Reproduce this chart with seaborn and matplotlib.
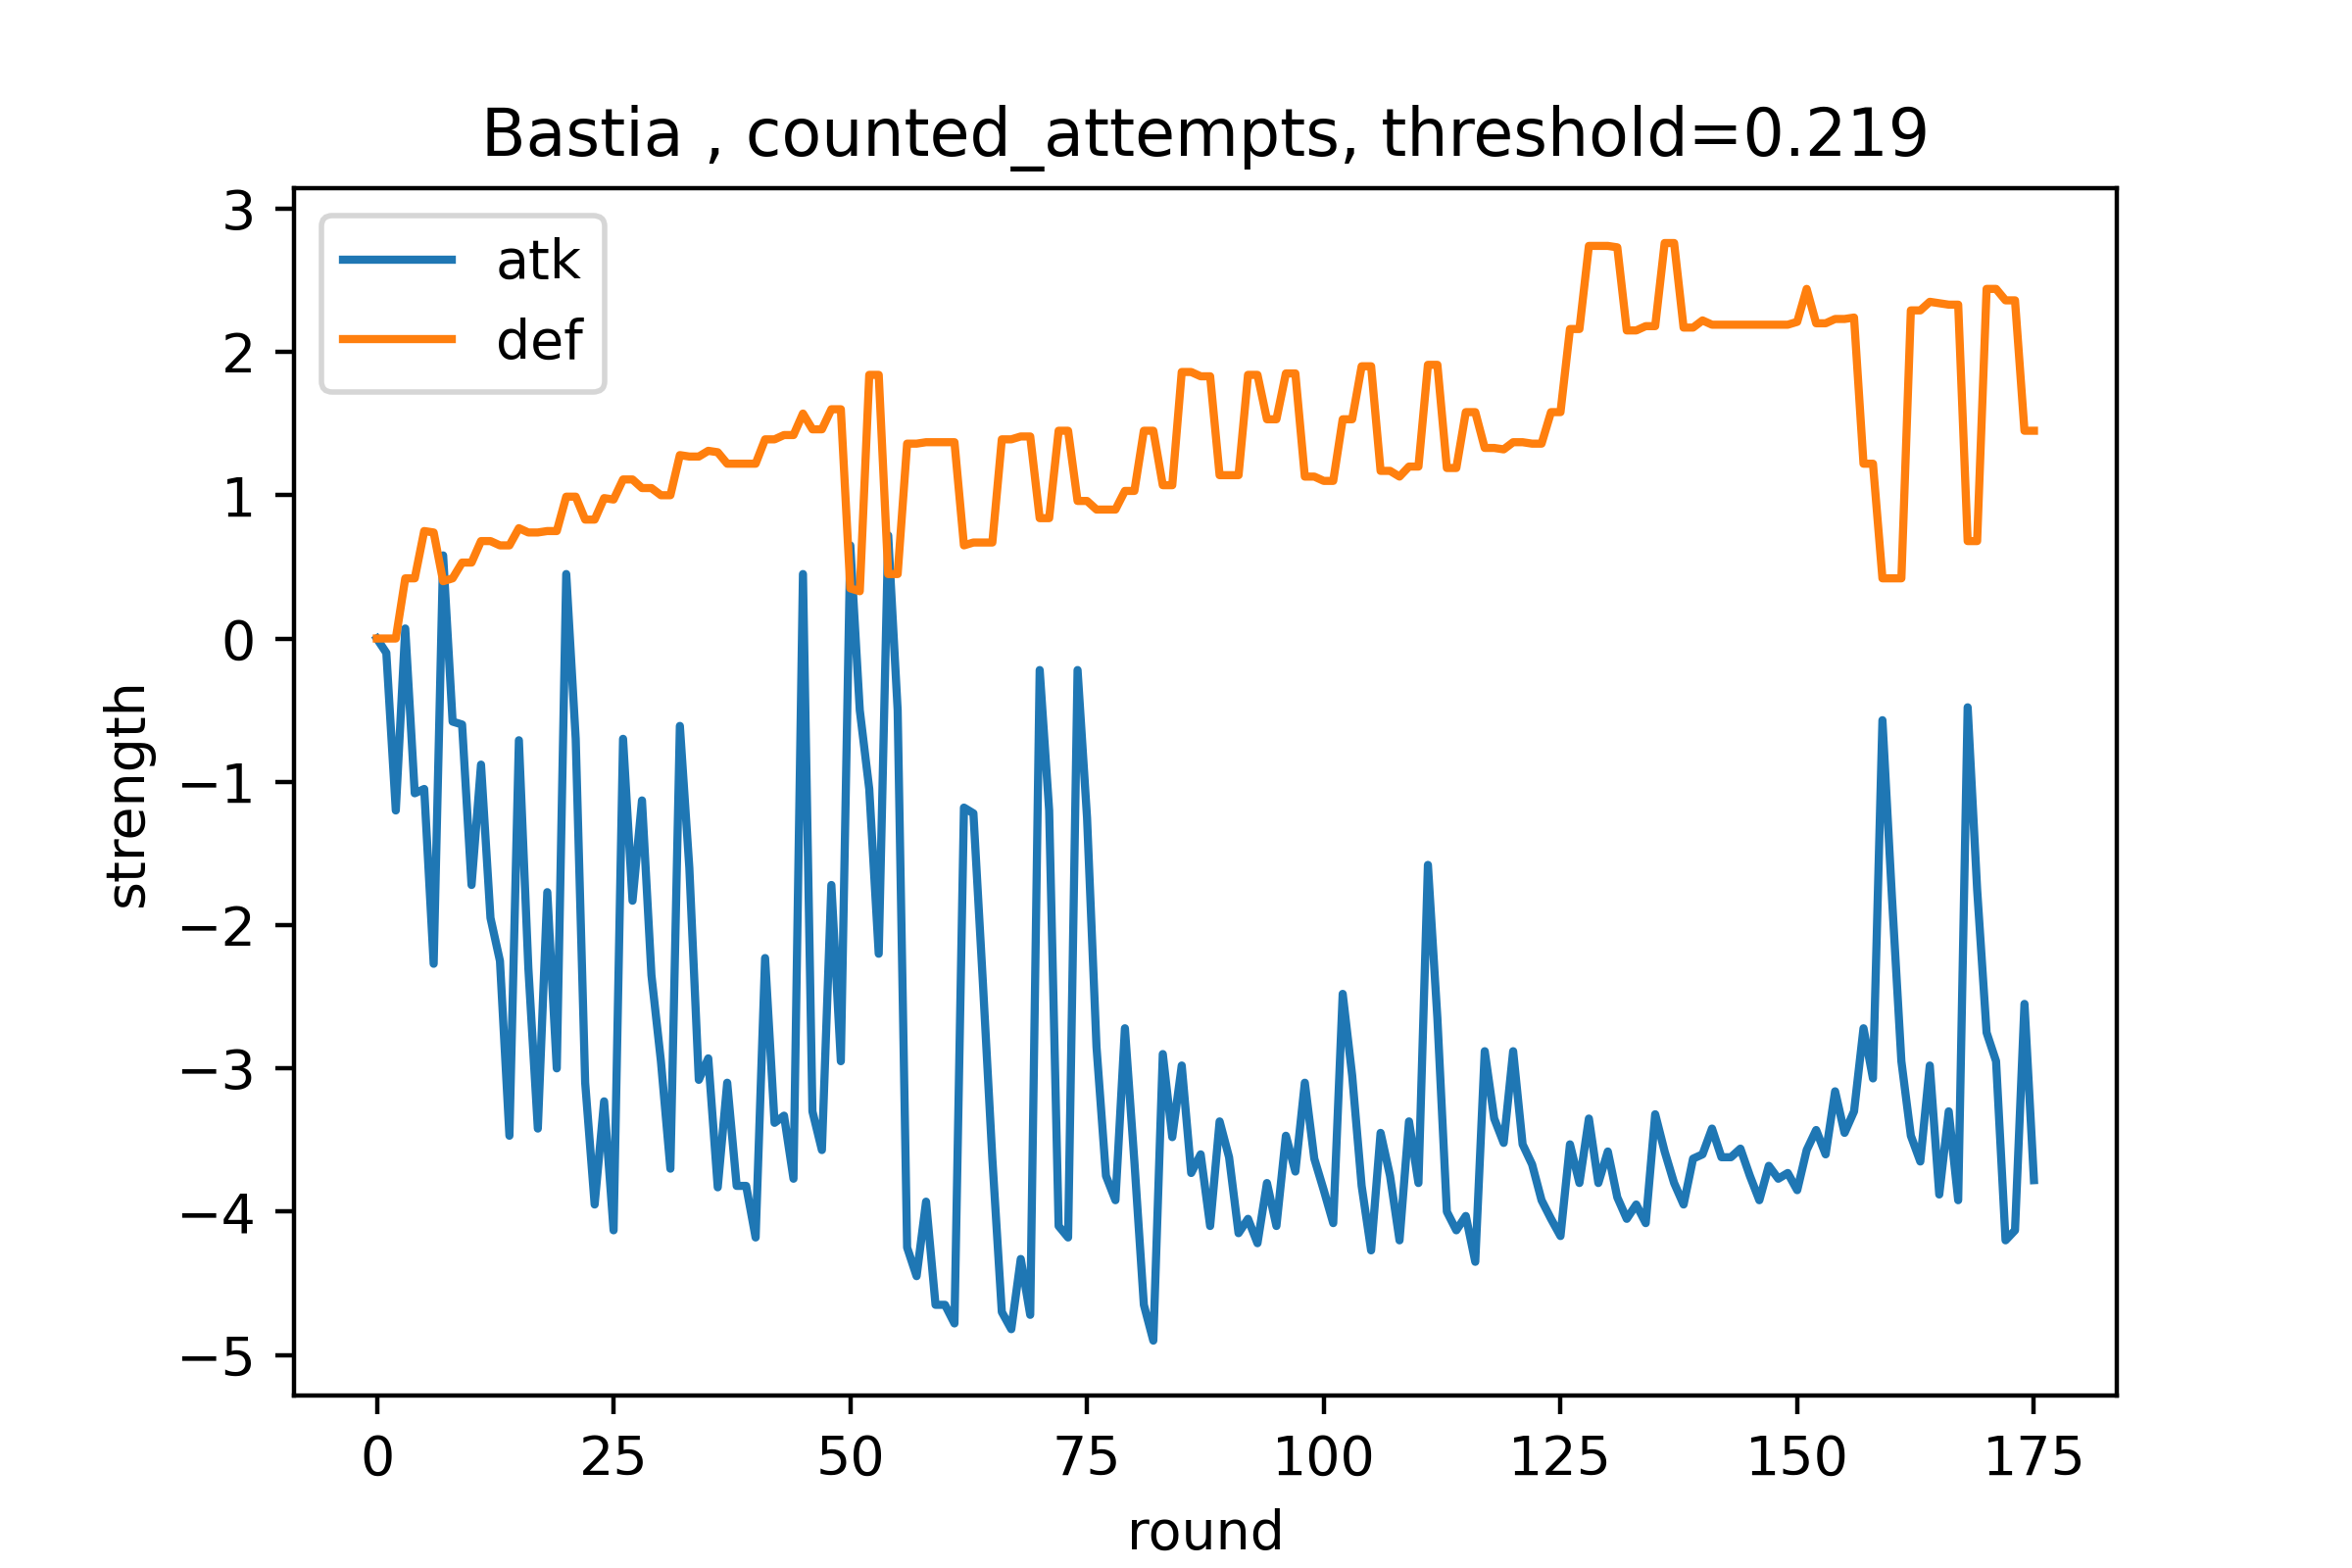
import matplotlib
matplotlib.use("Agg")
import matplotlib.pyplot as plt
import seaborn as sns
import numpy as np
import pandas as pd

atk = [0, -0.1, -1.2, 0.07, -1.08, -1.05, -2.27, 0.58, -0.58, -0.6,
       -1.72, -0.88, -1.95, -2.25, -3.47, -0.71, -2.3, -3.42, -1.77, -3.0,
       0.45, -0.7, -3.1, -3.95, -3.23, -4.13, -0.7, -1.83, -1.13, -2.35,
       -2.95, -3.7, -0.61, -1.6, -3.08, -2.93, -3.83, -3.1, -3.82, -3.82,
       -4.18, -2.23, -3.38, -3.33, -3.77, 0.45, -3.3, -3.57, -1.72, -2.95,
       0.65, -0.5, -1.05, -2.2, 0.72, -0.5, -4.25, -4.45, -3.93, -4.65,
       -4.65, -4.78, -1.18, -1.22, -2.4, -3.63, -4.7, -4.82, -4.33, -4.72,
       -0.22, -1.2, -4.1, -4.18, -0.22, -1.25, -2.85, -3.75, -3.92, -2.72,
       -3.65, -4.65, -4.9, -2.9, -3.48, -2.98, -3.73, -3.6, -4.1, -3.37,
       -3.62, -4.15, -4.05, -4.22, -3.8, -4.1, -3.47, -3.72, -3.1, -3.63,
       -3.85, -4.08, -2.48, -3.05, -3.82, -4.27, -3.45, -3.75, -4.2, -3.37,
       -3.8, -1.58, -2.65, -4.0, -4.13, -4.03, -4.35, -2.88, -3.35, -3.52,
       -2.88, -3.53, -3.67, -3.92, -4.05, -4.17, -3.53, -3.8, -3.35, -3.8,
       -3.58, -3.9, -4.05, -3.95, -4.08, -3.32, -3.58, -3.8, -3.95, -3.63,
       -3.6, -3.42, -3.62, -3.62, -3.56, -3.75, -3.92, -3.68, -3.77, -3.73,
       -3.85, -3.57, -3.43, -3.6, -3.16, -3.45, -3.3, -2.72, -3.07, -0.57,
       -1.8, -2.95, -3.47, -3.65, -2.98, -3.88, -3.3, -3.92, -0.48, -1.75,
       -2.75, -2.95, -4.2, -4.13, -2.55, -3.78]

deff = [0, 0, 0, 0.42, 0.42, 0.75, 0.74, 0.4, 0.42, 0.53,
        0.53, 0.68, 0.68, 0.65, 0.65, 0.77, 0.74, 0.74, 0.75, 0.75,
        0.99, 0.99, 0.83, 0.83, 0.98, 0.97, 1.11, 1.11, 1.05, 1.05,
        1.0, 1.0, 1.28, 1.27, 1.27, 1.31, 1.3, 1.22, 1.22, 1.22,
        1.22, 1.39, 1.39, 1.42, 1.42, 1.57, 1.46, 1.46, 1.6, 1.6,
        0.35, 0.33, 1.84, 1.84, 0.45, 0.45, 1.36, 1.36, 1.37, 1.37,
        1.37, 1.37, 0.65, 0.67, 0.67, 0.67, 1.39, 1.39, 1.41, 1.41,
        0.84, 0.84, 1.45, 1.45, 0.96, 0.96, 0.9, 0.9, 0.9, 1.03,
        1.03, 1.45, 1.45, 1.07, 1.07, 1.86, 1.86, 1.83, 1.83, 1.14,
        1.14, 1.14, 1.84, 1.84, 1.53, 1.53, 1.85, 1.85, 1.13, 1.13,
        1.1, 1.1, 1.53, 1.53, 1.9, 1.9, 1.17, 1.17, 1.13, 1.2,
        1.2, 1.91, 1.91, 1.19, 1.19, 1.58, 1.58, 1.33, 1.33, 1.32,
        1.37, 1.37, 1.36, 1.36, 1.58, 1.58, 2.16, 2.16, 2.74, 2.74,
        2.74, 2.73, 2.15, 2.15, 2.18, 2.18, 2.76, 2.76, 2.17, 2.17,
        2.22, 2.19, 2.19, 2.19, 2.19, 2.19, 2.19, 2.19, 2.19, 2.19,
        2.21, 2.44, 2.2, 2.2, 2.23, 2.23, 2.24, 1.22, 1.22, 0.42,
        0.42, 0.42, 2.29, 2.29, 2.35, 2.34, 2.33, 2.33, 0.68, 0.68,
        2.44, 2.44, 2.36, 2.36, 1.45, 1.45]

rounds = np.arange(len(atk))

fig, ax = plt.subplots(figsize=(6, 4), dpi=400)
sns.lineplot(x=rounds, y=atk, ax=ax, label="atk", color="#1f77b4")
sns.lineplot(x=rounds, y=deff, ax=ax, label="def", color="#ff7f0e")
ax.set_title("Bastia , counted_attempts, threshold=0.219")
ax.set_xlabel("round")
ax.set_ylabel("strength")
ax.legend(loc="upper left")
fig.savefig("out.png")
